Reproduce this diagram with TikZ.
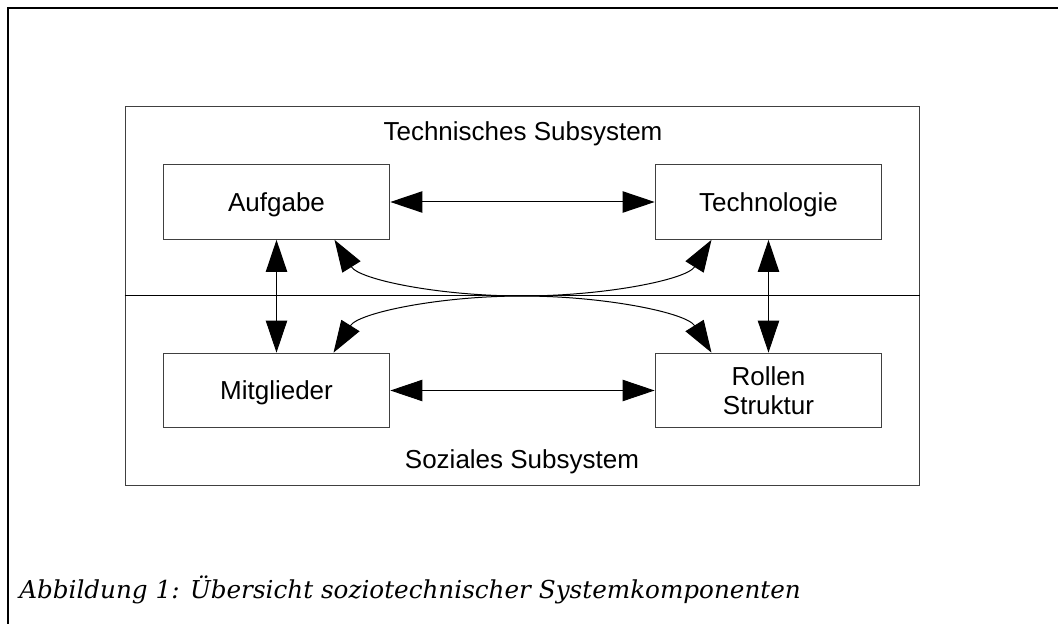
\documentclass[tikz,border=0pt]{standalone}
\usepackage{fontspec}
\setmainfont{Liberation Sans}
\newfontfamily\capfont{DejaVu Serif}
\usetikzlibrary{arrows.meta,calc}
\begin{document}
\begin{tikzpicture}[x=0.75pt,y=-0.75pt,
  comp/.style={draw=black!75,line width=0.75pt,minimum width=170pt,minimum height=56pt,
    inner sep=0pt,font=\fontsize{19.5}{22}\selectfont,align=center},
  oneline/.style={text height=14pt,text depth=0pt},
  sublabel/.style={anchor=base,inner sep=0pt,font=\fontsize{19.5}{22}\selectfont},
  link/.style={line width=0.75pt,
    {Triangle[length=24pt,width=16pt]}-{Triangle[length=24pt,width=16pt]}}]
\useasboundingbox (0,0) rectangle (1058,624);

% page frame
\draw[line width=1.5pt] (1062,8) -- (8,8) -- (8,628);

% system frame with divider
\node[draw=black!75,line width=0.75pt,minimum width=595.5pt,minimum height=283.5pt,inner sep=0pt]
  (sys) at (522,296) {};
\draw[line width=0.75pt] (sys.west) -- (sys.east);
\node[sublabel] (tsub) at (523,141) {Technisches Subsystem};
\node[sublabel] (ssub) at (522,468) {Soziales Subsystem};

% components
\node[comp,oneline] (aufg)  at (276.5,202) {Aufgabe};
\node[comp,oneline] (tech)  at (768.5,202) {Technologie};
\node[comp,oneline] (mitg)  at (276.5,390.5) {Mitglieder};
\node[comp] (rolle) at (768.5,390.5) {Rollen\\Struktur};

% straight links
\draw[link] (aufg.east) -- (tech.west);
\draw[link] (mitg.east) -- (rolle.west);
\draw[link] (aufg.south) -- (mitg.north);
\draw[link] (tech.south) -- (rolle.north);

% crossing links
\coordinate (cross) at (522,296);
\coordinate (a1) at ($(aufg.south)+(58,0)$);
\coordinate (t1) at ($(tech.south)+(-57,0)$);
\coordinate (m1) at ($(mitg.north)+(57,0)$);
\coordinate (r1) at ($(rolle.north)+(-57,0)$);
\draw[link] (a1) .. controls +(25,40) and +(-82,0) .. (cross)
                 .. controls +(82,0) and +(-25,-40) .. (r1);
\draw[link] (t1) .. controls +(-25,40) and +(82,0) .. (cross)
                 .. controls +(-82,0) and +(25,-40) .. (m1);

% caption
\node[anchor=base west,inner sep=0pt,font=\capfont\itshape\fontsize{18.5}{22}\selectfont]
  (cap) at (19,598) {Abbildung 1: Übersicht soziotechnischer Systemkomponenten};
\end{tikzpicture}
\end{document}
